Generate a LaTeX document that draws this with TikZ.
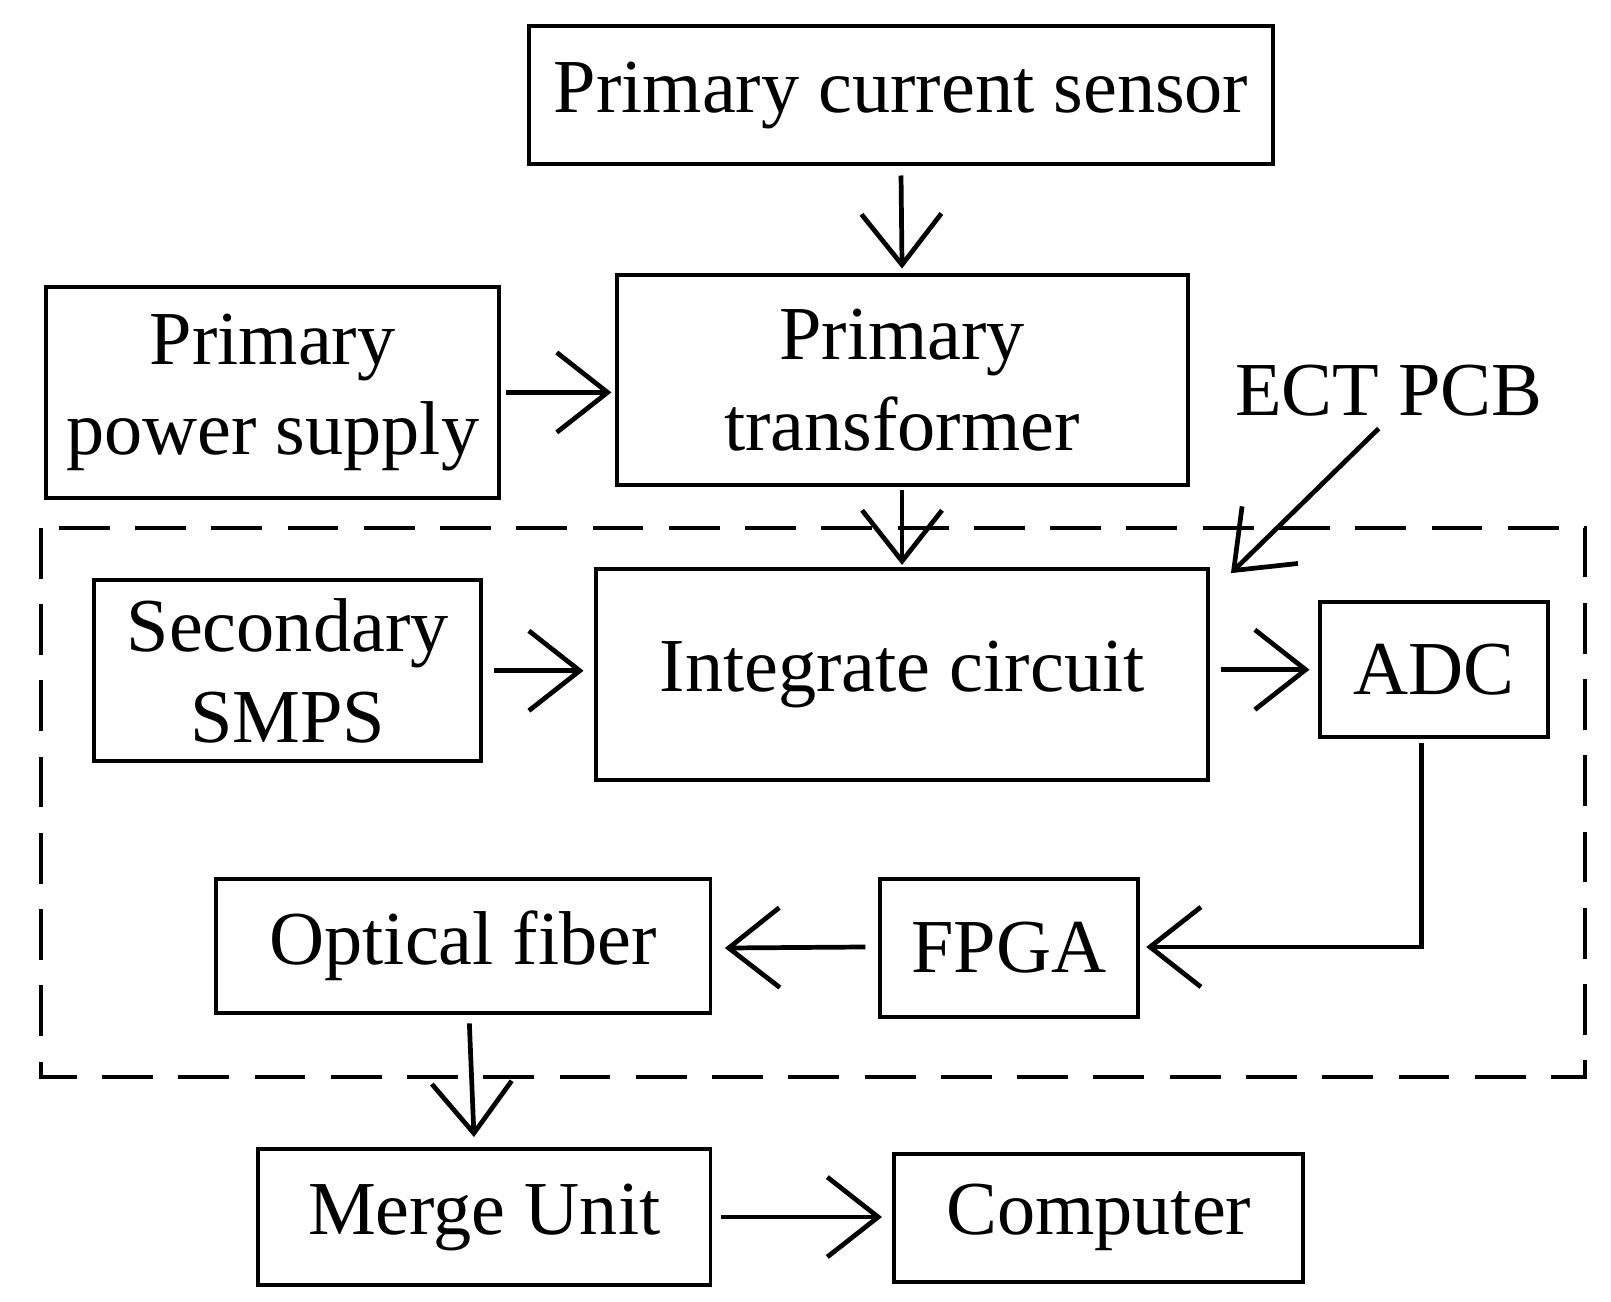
\documentclass[tikz,border=0pt]{standalone}
\usepackage{fontspec}
\setmainfont{Liberation Serif}
\usetikzlibrary{arrows.meta}
\begin{document}
\begin{tikzpicture}[x=0.01cm,y=-0.01cm,
  box/.style={draw,line width=1.1pt,inner sep=0pt,align=center,font=\fontsize{21}{25}\selectfont},
  arr/.style={line width=1.3pt,-{Straight Barb[length=14pt,width=22pt,line width=1.3pt]}}]
\useasboundingbox (0,0) rectangle (1560,1260);
\newcommand\bx[6]{\node[box,minimum width=#4*0.01cm-#2*0.01cm,minimum height=#5*0.01cm-#3*0.01cm] (#1) at ({(#2+#4)/2},{(#3+#5)/2}) {#6};}
\bx{pcs}{512}{25}{1233}{159}{Primary current sensor}
\bx{pps}{45}{278}{483}{482}{Primary\\power supply}
\bx{pt}{597}{266}{1150}{470}{Primary\\transformer}
\bx{sm}{91}{562}{466}{737}{Secondary\\SMPS}
\bx{ic}{577}{551}{1170}{755}{Integrate circuit}
\bx{adc}{1278}{583}{1499}{714}{ADC}
\bx{of}{209}{851}{688}{981}{Optical fiber}
\bx{fp}{852}{851}{1102}{985}{FPGA}
\bx{mu}{250}{1113}{688}{1244}{Merge Unit}
\bx{co}{866}{1117}{1262}{1241}{Computer}
\draw[dashed,line width=1.1pt,dash pattern=on 14pt off 7pt] (40,511) rectangle (1535,1043);
\node[font=\fontsize{21}{25}\selectfont] (ect) at (1345,378) {ECT PCB};
\coordinate (e1) at (1335,415); \coordinate (e2) at (1192,555);
\draw[arr] (e1) -- (e2);
\draw[arr] ([yshift=-0.09cm]pcs.south) -- ([yshift=0.04cm]pt.north);
\draw[arr] ([xshift=0.05cm]pps.east) -- ([xshift=-0.03cm]pps.east -| pt.west);
\draw[arr] ([yshift=-0.03cm]pt.south) -- ([yshift=0.02cm]ic.north);
\draw[arr] ([xshift=0.1cm]sm.east) -- ([xshift=-0.1cm]sm.east -| ic.west);
\draw[arr] ([xshift=0.1cm]ic.east |- adc.west) -- ([xshift=-0.08cm]adc.west);
\draw[arr] ([xshift=-0.12cm,yshift=-0.04cm]adc.south) |- ([xshift=0.06cm,yshift=0.01cm]fp.east);
\draw[arr] ([xshift=-0.12cm,yshift=0.01cm]fp.west) -- ([xshift=0.12cm]of.east |- fp.west);
\draw[arr] ([xshift=0.06cm,yshift=-0.08cm]of.south) -- ([xshift=-0.1cm,yshift=0.1cm]mu.north);
\draw[arr] ([xshift=0.08cm]mu.east) -- ([xshift=-0.1cm]mu.east -| co.west);
\end{tikzpicture}
\end{document}
